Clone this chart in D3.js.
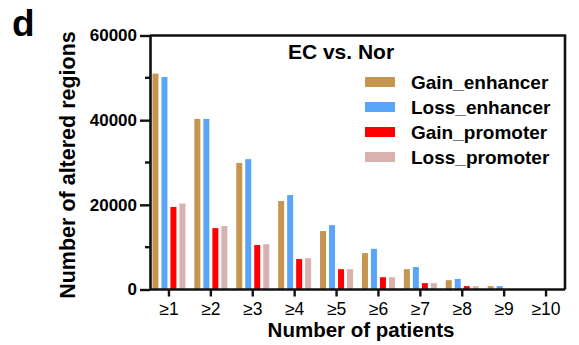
<!DOCTYPE html>
<html>
<head>
<meta charset="utf-8">
<script src="https://cdn.jsdelivr.net/npm/d3@7"></script>
<style>
  body { margin: 0; background: #fff; }
  svg text { font-family: "Liberation Sans", Arial, sans-serif; }
</style>
</head>
<body>
<div id="chart"></div>
<script>
// data
const categories = ["≥1", "≥2", "≥3", "≥4", "≥5", "≥6", "≥7", "≥8", "≥9", "≥10"];
const seriesNames = ["Gain_enhancer", "Loss_enhancer", "Gain_promoter", "Loss_promoter"];
const gainEnhancer = [51000, 40300, 29900, 20900, 13800, 8600, 4800, 2200, 800, 0];
const lossEnhancer = [50200, 40300, 30800, 22300, 15200, 9600, 5300, 2500, 800, 0];
const gainPromoter = [19500, 14500, 10500, 7200, 4800, 2900, 1500, 800, 100, 0];
const lossPromoter = [20300, 15000, 10700, 7400, 4800, 2900, 1500, 800, 100, 0];
const yTicks = [0, 20000, 40000, 60000];
const yMinorTicks = [10000, 30000, 50000];

const seriesValues = [gainEnhancer, lossEnhancer, gainPromoter, lossPromoter];
const colors = ["#C69650", "#59A5FA", "#FF0000", "#D9B1AE"];

let width = 579, height = 345;
let plotLeft = 150, plotRight = 565, plotTop = 35.5, plotBottom = 289.5;

let svg = d3.select("#chart").append("svg")
    .attr("width", width)
    .attr("height", height);

// scales
let x = d3.scaleBand().domain(categories).range([148, 567]);
let xInner = d3.scaleBand().domain(seriesNames).range([-16.5, 16.5]).paddingInner(1 / 3);
let y = d3.scaleLinear().domain([0, 60000]).range([plotBottom, plotTop]);
let color = d3.scaleOrdinal().domain(seriesNames).range(colors);

// bars
let groups = svg.selectAll(".series")
    .data(seriesNames)
    .enter()
    .append("g")
    .attr("fill", d => color(d));

groups.selectAll("rect")
    .data((name, i) => seriesValues[i].map((v, j) => ({ name: name, cat: categories[j], value: v })))
    .enter()
    .append("rect")
    .attr("x", d => x(d.cat) + x.bandwidth() / 2 + xInner(d.name))
    .attr("width", xInner.bandwidth())
    .attr("y", d => y(d.value))
    .attr("height", d => plotBottom - y(d.value));

// frame (top and right)
svg.append("path")
    .attr("d", `M${plotLeft},${plotTop}H${plotRight}V${plotBottom}`)
    .attr("fill", "none")
    .attr("stroke", "#111")
    .attr("stroke-width", 2.6);

// y axis
let yAxis = svg.append("g")
    .attr("transform", `translate(${plotLeft},0)`)
    .call(d3.axisLeft(y).tickValues(yTicks).tickFormat(d3.format("d"))
        .tickSize(10).tickPadding(3).tickSizeOuter(0));
yAxis.select(".domain").attr("stroke", "#111").attr("stroke-width", 2.6);
yAxis.selectAll(".tick line").attr("stroke", "#111").attr("stroke-width", 2.4);
yAxis.selectAll(".tick text")
    .attr("fill", "#000")
    .style("font-size", "17px")
    .style("font-weight", "bold")
    .style("font-family", "'Liberation Sans', Arial, sans-serif");

svg.append("g")
    .attr("transform", `translate(${plotLeft},0)`)
    .selectAll("line")
    .data(yMinorTicks)
    .enter()
    .append("line")
    .attr("x1", -5).attr("x2", 0)
    .attr("y1", d => y(d)).attr("y2", d => y(d))
    .attr("stroke", "#111")
    .attr("stroke-width", 2.4);

// x axis
let xAxis = svg.append("g")
    .attr("transform", `translate(0,${plotBottom})`)
    .call(d3.axisBottom(x).tickSize(7).tickPadding(6).tickSizeOuter(0));
xAxis.select(".domain").attr("d", `M${plotLeft},0H${plotRight}`).attr("stroke", "#111").attr("stroke-width", 2.6);
xAxis.selectAll(".tick line").attr("stroke", "#111").attr("stroke-width", 2.4);
xAxis.selectAll(".tick text")
    .attr("fill", "#000")
    .style("font-size", "17.5px")
    .style("font-family", "'Liberation Sans', Arial, sans-serif");

// axis titles
svg.append("text")
    .text("Number of patients")
    .attr("x", 361)
    .attr("y", 337)
    .attr("text-anchor", "middle")
    .style("font-size", "20.5px")
    .style("font-weight", "bold");

svg.append("text")
    .text("Number of altered regions")
    .attr("transform", "translate(75,165) rotate(-90)")
    .attr("text-anchor", "middle")
    .style("font-size", "21.5px")
    .style("font-weight", "bold");

// panel letter and chart title
svg.append("text")
    .text("d")
    .attr("x", 12)
    .attr("y", 36)
    .style("font-size", "37px")
    .style("font-weight", "bold");

svg.append("text")
    .text("EC vs. Nor")
    .attr("x", 341)
    .attr("y", 59)
    .attr("text-anchor", "middle")
    .style("font-size", "21px")
    .style("font-weight", "bold");

// legend
let legend = svg.selectAll(".legend")
    .data(seriesNames)
    .enter()
    .append("g")
    .attr("transform", (d, i) => `translate(365,${82 + i * 25})`);

legend.append("rect")
    .attr("x", 0).attr("y", -5)
    .attr("width", 30).attr("height", 10)
    .attr("fill", d => color(d));

legend.append("text")
    .text(d => d)
    .attr("x", 46)
    .attr("y", 7)
    .style("font-size", "19px")
    .style("font-weight", "bold");
</script>
</body>
</html>
